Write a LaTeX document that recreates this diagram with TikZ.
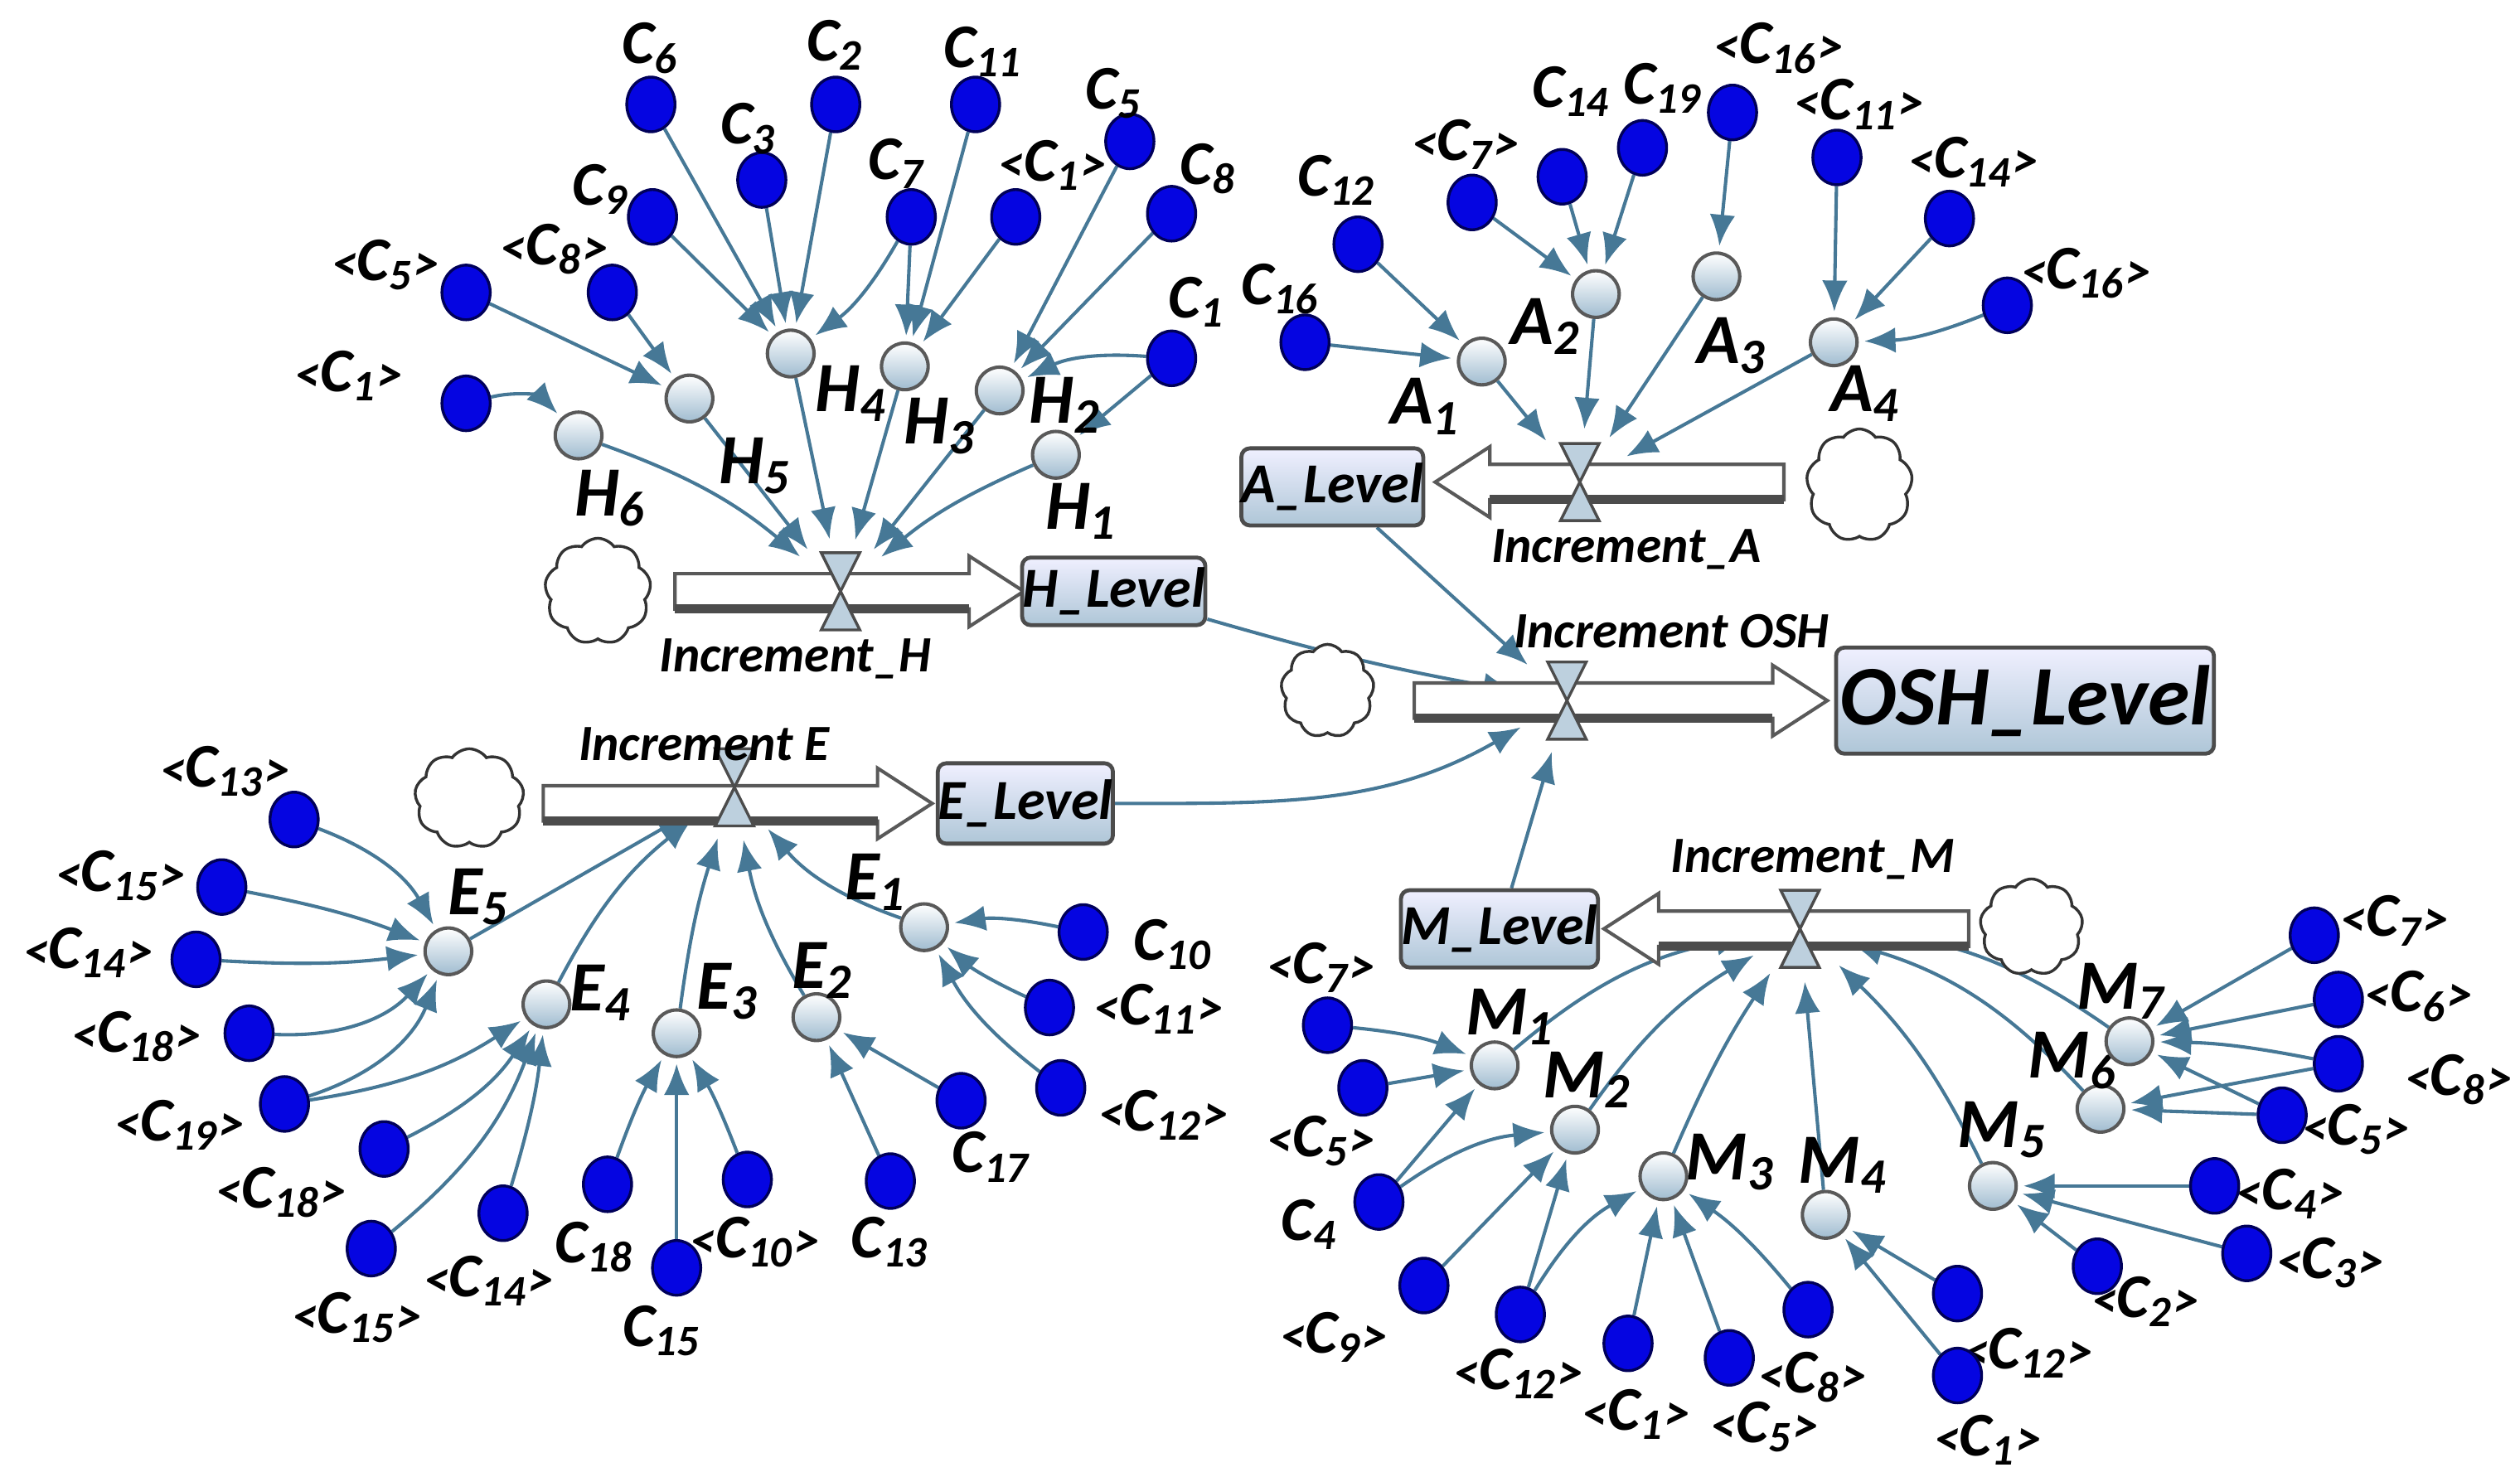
\documentclass[tikz,border=0pt]{standalone}
\usepackage{fontspec}
\setmainfont{Carlito}
\usetikzlibrary{shapes.geometric,shapes.symbols,arrows.meta}
\pgfdeclarelayer{bg}\pgfsetlayers{bg,main}
\definecolor{arc}{RGB}{70,120,150}
\definecolor{dotb}{RGB}{5,5,225}
\definecolor{aux}{RGB}{160,188,208}
\newcommand\sbs[1]{\textsubscript{#1}}
\newcommand\ob[1]{{\fontsize{9}{9}\selectfont<}#1{\fontsize{9}{9}\selectfont>}}
\newcommand\cdt[4]{\node[cn] (#1) at (#2) {}; \node[lab] (#1l) at (#3) {#4};}
\newcommand\anb[4]{\node[an] (#1) at (#2) {}; \node[lab,font=\bfseries\itshape\fontsize{12.5}{14}\selectfont] (#1l) at (#3) {#4};}
\newcommand\fpipe[3]{%
 \pgfmathsetmacro\dd{(#2>#1)?34:-34}%
 \pgfmathsetmacro\xe{#2-\dd}%
 \draw[gray!70!black,fill=white,line width=0.6pt] (#1,#3-11) -- (\xe,#3-11) -- (\xe,#3-22) -- (#2,#3) -- (\xe,#3+22) -- (\xe,#3+11) -- (#1,#3+11) -- cycle;
 \draw[line width=1.6pt,black!70] (#1,#3+11) -- (\xe,#3+11);}
\newcommand\hglass[1]{\draw[gray!60!black,fill=aux!70,line width=0.5pt] (#1) ++(-12,-24) -- ++(24,0) -- ++(-24,48) -- ++(24,0) -- cycle;}
\tikzset{
 cn/.style={ellipse,minimum width=0.3cm,minimum height=0.34cm,inner sep=0pt,fill=dotb,draw=blue!35!black,line width=0.5pt},
 an/.style={circle,minimum size=0.29cm,inner sep=0pt,draw=gray!70!black,line width=0.6pt,top color=white,bottom color=aux},
 lab/.style={font=\bfseries\itshape\fontsize{11}{12}\selectfont,inner sep=0pt},
 small/.style={font=\bfseries\itshape\fontsize{9}{10}\selectfont,inner sep=0pt},
 ar/.style={arc,line width=0.6pt,-{Latex[length=5.5pt,width=4.5pt]},shorten >=1pt},
 valve/.style={circle,minimum size=0.58cm,inner sep=0pt},
 lvl/.style={draw=gray!60!black,line width=0.7pt,rounded corners=1.5pt,top color=blue!6,bottom color=aux!85,inner sep=0pt,font=\bfseries\itshape\fontsize{10}{11}\selectfont},
 cld/.style={cloud,cloud puffs=9,cloud puff arc=110,aspect=1,draw=black!80,line width=0.5pt,fill=white,inner sep=0pt}
}
\begin{document}
\begin{tikzpicture}[x=0.01cm,y=-0.01cm]
\useasboundingbox (0,0) rectangle (1568,919);
\node[cld,minimum width=0.66cm,minimum height=0.66cm] (cH) at (372,368) {};
\node[cld,minimum width=0.66cm,minimum height=0.7cm] (cA) at (1157,302) {};
\node[cld,minimum width=0.58cm,minimum height=0.58cm] (cO) at (826,430) {};
\node[cld,minimum width=0.68cm,minimum height=0.62cm] (cE) at (292,497) {};
\node[cld,minimum width=0.64cm,minimum height=0.6cm] (cM) at (1264,577) {};
\fpipe{420}{637}{368}
\fpipe{1110}{893}{300}
\fpipe{880}{1137}{436}
\fpipe{338}{580}{500}
\fpipe{1225}{998}{578}
\node[valve] (vH) at (523,368) {};
\node[valve] (vA) at (983,300) {};
\node[valve] (vO) at (975,436) {};
\node[valve] (vE) at (457,490) {};
\node[valve] (vM) at (1120,578) {};
\hglass{vH}\hglass{vA}\hglass{vO}\hglass{vE}\hglass{vM}
\node[small] (tH) at (495,410) {Increment\_H};
\node[small] (tA) at (1012,342) {Increment\_A};
\node[small] (tO) at (1040,393) {Increment OSH};
\node[small] (tE) at (438,463) {Increment E};
\node[small] (tM) at (1128,535) {Increment\_M};
\node[lvl,minimum width=1.05cm,minimum height=0.42cm] (LH) at (693,368) {H\_Level};
\node[lvl,minimum width=1.12cm,minimum height=0.48cm] (LA) at (829,303) {A\_Level};
\node[lvl,minimum width=2.35cm,minimum height=0.66cm,font=\bfseries\itshape\fontsize{15}{17}\selectfont] (LO) at (1260,436) {OSH\_Level};
\node[lvl,minimum width=1.0cm,minimum height=0.5cm] (LE) at (638,500) {E\_Level};
\node[lvl,minimum width=1.1cm,minimum height=0.48cm] (LM) at (933,578) {M\_Level};
% ---------- H
\cdt{h1}{405,65}{405,30}{C\sbs{6}}
\cdt{h2}{520,65}{520,28}{C\sbs{2}}
\cdt{h3}{607,65}{612,32}{C\sbs{11}}
\cdt{h4}{474,112}{466,80}{C\sbs{3}}
\cdt{h5}{567,135}{558,102}{C\sbs{7}}
\cdt{h6}{632,135}{655,103}{\ob{C\sbs{1}}}
\cdt{h7}{703,88}{693,58}{C\sbs{5}}
\cdt{h8}{729,133}{752,105}{C\sbs{8}}
\cdt{h9}{406,135}{374,118}{C\sbs{9}}
\cdt{h10}{290,182}{240,165}{\ob{C\sbs{5}}}
\cdt{h11}{381,182}{345,155}{\ob{C\sbs{8}}}
\cdt{h12}{729,223}{745,188}{C\sbs{1}}
\cdt{h13}{290,251}{217,234}{\ob{C\sbs{1}}}
\anb{H5}{429,248}{470,290}{H\sbs{5}}
\anb{H4}{492,220}{530,245}{H\sbs{4}}
\anb{H3}{563,228}{585,265}{H\sbs{3}}
\anb{H2}{622,243}{663,252}{H\sbs{2}}
\anb{H1}{657,283}{673,318}{H\sbs{1}}
\anb{H6}{360,271}{380,310}{H\sbs{6}}
% ---------- A
\cdt{a1}{845,152}{832,112}{C\sbs{12}}
\cdt{a2}{812,213}{797,180}{C\sbs{16}}
\cdt{a3}{916,126}{912,90}{\ob{C\sbs{7}}}
\cdt{a4}{972,110}{978,57}{C\sbs{14}}
\cdt{a5}{1022,92}{1035,55}{C\sbs{19}}
\cdt{a6}{1078,70}{1107,30}{\ob{C\sbs{16}}}
\cdt{a7}{1143,98}{1157,65}{\ob{C\sbs{11}}}
\cdt{a8}{1213,136}{1228,101}{\ob{C\sbs{14}}}
\cdt{a9}{1249,190}{1298,170}{\ob{C\sbs{16}}}
\anb{A1}{922,225}{887,253}{A\sbs{1}}
\anb{A2}{993,183}{962,203}{A\sbs{2}}
\anb{A3}{1068,172}{1078,215}{A\sbs{3}}
\anb{A4}{1141,213}{1161,245}{A\sbs{4}}
% ---------- E
\cdt{e1}{183,510}{140,480}{\ob{C\sbs{13}}}
\cdt{e2}{138,552}{75,545}{\ob{C\sbs{15}}}
\cdt{e3}{122,597}{55,593}{\ob{C\sbs{14}}}
\cdt{e4}{155,643}{85,645}{\ob{C\sbs{18}}}
\cdt{e5}{177,687}{112,700}{\ob{C\sbs{19}}}
\cdt{e6}{239,715}{175,742}{\ob{C\sbs{18}}}
\cdt{e7}{231,777}{222,820}{\ob{C\sbs{15}}}
\cdt{e8}{313,755}{304,797}{\ob{C\sbs{14}}}
\cdt{e9}{378,737}{370,776}{C\sbs{18}}
\cdt{e10}{421,789}{412,828}{C\sbs{15}}
\cdt{e11}{465,734}{470,773}{\ob{C\sbs{10}}}
\cdt{e12}{554,735}{554,773}{C\sbs{13}}
\cdt{e13}{598,685}{617,720}{C\sbs{17}}
\cdt{e14}{674,580}{730,588}{C\sbs{10}}
\cdt{e15}{653,627}{721,628}{\ob{C\sbs{11}}}
\cdt{e16}{660,677}{724,694}{\ob{C\sbs{12}}}
\anb{E5}{279,592}{298,558}{E\sbs{5}}
\anb{E4}{340,625}{374,618}{E\sbs{4}}
\anb{E3}{421,643}{453,617}{E\sbs{3}}
\anb{E2}{508,633}{512,604}{E\sbs{2}}
\anb{E1}{575,577}{545,549}{E\sbs{1}}
% ---------- M
\cdt{m1}{826,638}{822,602}{\ob{C\sbs{7}}}
\cdt{m2}{848,677}{822,710}{\ob{C\sbs{5}}}
\cdt{m3}{858,748}{815,762}{C\sbs{4}}
\cdt{m4}{886,800}{830,832}{\ob{C\sbs{9}}}
\cdt{m5}{946,818}{945,855}{\ob{C\sbs{12}}}
\cdt{m6}{1013,836}{1018,880}{\ob{C\sbs{1}}}
\cdt{m7}{1076,845}{1098,888}{\ob{C\sbs{5}}}
\cdt{m8}{1125,815}{1128,857}{\ob{C\sbs{8}}}
\cdt{m9}{1218,805}{1262,842}{\ob{C\sbs{12}}}
\cdt{m10}{1218,856}{1237,896}{\ob{C\sbs{1}}}
\cdt{m11}{1305,788}{1335,810}{\ob{C\sbs{2}}}
\cdt{m12}{1398,780}{1450,786}{\ob{C\sbs{3}}}
\cdt{m13}{1378,738}{1425,743}{\ob{C\sbs{4}}}
\cdt{m14}{1420,694}{1466,703}{\ob{C\sbs{5}}}
\cdt{m15}{1455,662}{1530,672}{\ob{C\sbs{8}}}
\cdt{m16}{1455,622}{1505,620}{\ob{C\sbs{6}}}
\cdt{m17}{1440,582}{1490,573}{\ob{C\sbs{7}}}
\anb{M1}{930,663}{940,633}{M\sbs{1}}
\anb{M2}{980,703}{988,672}{M\sbs{2}}
\anb{M3}{1035,732}{1077,723}{M\sbs{3}}
\anb{M4}{1136,756}{1147,725}{M\sbs{4}}
\anb{M5}{1240,738}{1246,703}{M\sbs{5}}
\anb{M6}{1307,690}{1290,660}{M\sbs{6}}
\anb{M7}{1325,648}{1320,617}{M\sbs{7}}
% ---------- edges
\begin{pgfonlayer}{bg}
\foreach \s in {h1,h9,h4,h2} \draw[ar] (\s) -- (H4);
\draw[ar] (h5) to[bend left=12] (H4);
\foreach \s in {h5,h3,h6} \draw[ar] (\s) -- (H3);
\foreach \s in {h7,h8} \draw[ar] (\s) -- (H2);
\draw[ar] (h12) to[bend right=15] (H2);
\draw[ar] (h12) -- (H1);
\foreach \s in {h10,h11} \draw[ar] (\s) -- (H5);
\draw[ar] (h13) to[bend left=30] (H6);
\draw[ar] (H6) to[bend left=10] (vH);
\foreach \s in {H5,H4,H3,H2} \draw[ar] (\s) -- (vH);
\draw[ar] (H1) to[bend right=8] (vH);
\foreach \s in {a1,a2} \draw[ar] (\s) -- (A1);
\foreach \s in {a3,a4,a5} \draw[ar] (\s) -- (A2);
\draw[ar] (a6) -- (A3);
\foreach \s in {a7,a8} \draw[ar] (\s) -- (A4);
\draw[ar] (a9) to[bend left=10] (A4);
\foreach \s in {A1,A2,A3,A4} \draw[ar] (\s) -- (vA);
\draw[ar] (e1) to[bend left=20] (E5);
\draw[ar] (e2) to[bend left=5] (E5);
\draw[ar] (e3) to[bend right=5] (E5);
\draw[ar] (e4) to[bend right=25] (E5);
\draw[ar] (e5) to[bend right=25] (E5);
\draw[ar] (e5) to[bend right=12] (E4);
\draw[ar] (e6) to[bend right=15] (E4);
\draw[ar] (e7) to[bend right=15] (E4);
\draw[ar] (e8) to[bend right=5] (E4);
\draw[ar] (e9) to[bend left=5] (E3);
\draw[ar] (e10) -- (E3);
\draw[ar] (e11) to[bend right=5] (E3);
\draw[ar] (e12) -- (E2);
\draw[ar] (e13) -- (E2);
\draw[ar] (e14) to[bend right=10] (E1);
\draw[ar] (e15) to[bend left=8] (E1);
\draw[ar] (e16) to[bend left=12] (E1);
\draw[ar] (E5) -- (vE);
\draw[ar] (E4) to[bend left=12] (vE);
\draw[ar] (E3) to[bend left=5] (vE);
\draw[ar] (E2) to[bend left=10] (vE);
\draw[ar] (E1) to[bend left=15] (vE);
\draw[ar] (m1) to[bend left=8] (M1);
\draw[ar] (m2) -- (M1);
\draw[ar] (m3) -- (M1);
\draw[ar] (m3) to[bend left=15] (M2);
\draw[ar] (m4) -- (M2);
\draw[ar] (m5) -- (M2);
\draw[ar] (m5) to[bend left=15] (M3);
\draw[ar] (m6) -- (M3);
\draw[ar] (m7) -- (M3);
\draw[ar] (m8) to[bend right=8] (M3);
\draw[ar] (m9) -- (M4);
\draw[ar] (m10) -- (M4);
\draw[ar] (m11) -- (M5);
\draw[ar] (m12) -- (M5);
\draw[ar] (m13) -- (M5);
\draw[ar] (m14) -- (M6);
\draw[ar] (m15) -- (M6);
\draw[ar] (m17) -- (M7);
\draw[ar] (m16) -- (M7);
\draw[ar] (m15) to[bend right=5] (M7);
\draw[ar] (m14) -- (M7);
\draw[ar] (M1) to[bend left=15] (vM);
\draw[ar] (M2) to[bend left=12] (vM);
\draw[ar] (M3) to[bend left=5] (vM);
\draw[ar] (M4) -- (vM);
\draw[ar] (M5) to[bend right=10] (vM);
\draw[ar] (M6) to[bend right=15] (vM);
\draw[ar] (M7) to[bend right=15] (vM);
\draw[ar] (LH) to[bend right=3] (vO);
\draw[ar] (LA) -- (vO);
\draw[ar] (LE.east) to[out=0,in=210] (vO);
\draw[ar] (LM) -- (vO);
\end{pgfonlayer}
\end{tikzpicture}
\end{document}
